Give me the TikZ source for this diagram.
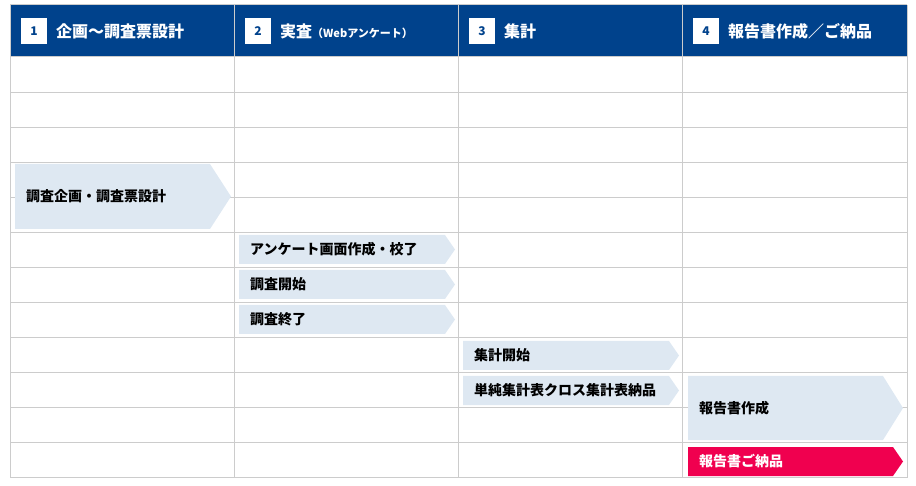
\documentclass[tikz,border=0pt]{standalone}
\usepackage{fontspec}
\setmainfont{Noto Sans CJK JP}
\usetikzlibrary{positioning}
\definecolor{headblue}{rgb}{0.0, 0.26, 0.55}
\definecolor{gridgray}{rgb}{0.8, 0.8, 0.8}
\definecolor{paleblue}{rgb}{0.87, 0.91, 0.95}
\definecolor{deliverred}{rgb}{0.94, 0.0, 0.31}
\tikzset{
  gridline/.style={draw=gridgray, line width=1pt},
  numbox/.style={fill=white, minimum size=26pt, inner sep=0pt, text=headblue,
    font=\fontsize{12}{12}\selectfont\bfseries},
  headtext/.style={anchor=west, inner sep=0pt, text=white,
    font=\fontsize{16}{16}\selectfont\bfseries},
  steptext/.style={anchor=west, inner sep=0pt,
    font=\fontsize{14}{14}\selectfont\bfseries},
}
\begin{document}
\begin{tikzpicture}[x=1pt,y=-1pt]
  \useasboundingbox (0,0) rectangle (916,486);

  % header band
  \fill[headblue] (10,5) rectangle (907,57);
  \foreach \col/\num/\title in
  {
    10/1/{企画～調査票設計},
    234/2/{実査{\fontsize{11}{11}\selectfont（Webアンケート）}},
    458/3/{集計},
    682/4/{報告書作成／ご納品}
  }
  {
    \node[numbox] (num\num) at (\col+24,31) {\num};
    \node[headtext] (head\num) at (\col+46,31) {\title};
  }

  % grid
  \draw[gridline] (10,5) -- (907,5);
  \foreach \x in {10,234,458,682,907}
    \draw[gridline] (\x,5) -- (\x,478);
  \foreach \k in {0,...,12}
    \draw[gridline] (10,57+35.08*\k) -- (907,57+35.08*\k);

  % steps
  \foreach \xa/\xb/\xc/\ya/\yb/\fillc/\textc/\name/\label in
  {
    15/210/231/164/229/paleblue/black/plan/調査企画・調査票設計,
    239/445/455/235/264/paleblue/black/screen/アンケート画面作成・校了,
    239/445/455/270/299/paleblue/black/start/調査開始,
    239/445/455/305/334/paleblue/black/finish/調査終了,
    463/669/679/341/370/paleblue/black/tally/集計開始,
    463/669/679/376/405/paleblue/black/tables/単純集計表クロス集計表納品,
    688/883/903/376/440/paleblue/black/report/報告書作成,
    688/893/903/447/476/deliverred/white/deliver/報告書ご納品
  }
  {
    \fill[\fillc] (\xa,\ya) -- (\xb,\ya) -- (\xc,{(\ya+\yb)/2})
      -- (\xb,\yb) -- (\xa,\yb) -- cycle;
    \node[steptext, text=\textc] (\name) at (\xa+11,{(\ya+\yb)/2}) {\label};
  }
\end{tikzpicture}
\end{document}
